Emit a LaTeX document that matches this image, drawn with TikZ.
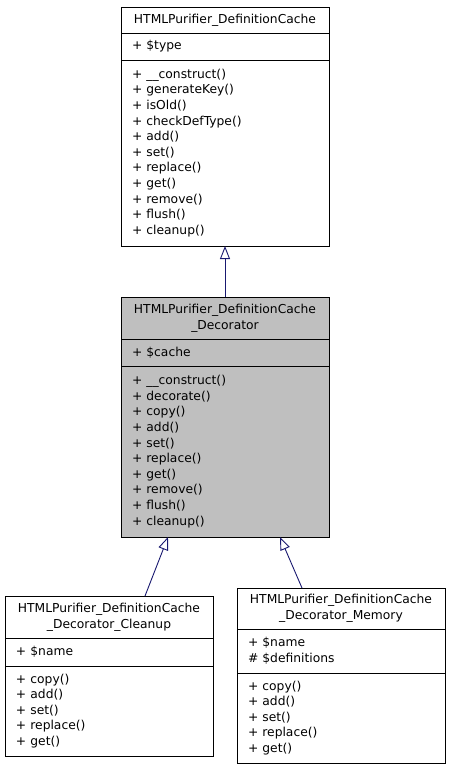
\documentclass[tikz,border=0pt]{standalone}
\usepackage{fontspec}
\setmainfont{DejaVu Sans}
\usetikzlibrary{positioning,arrows.meta}
\definecolor{edgeblue}{RGB}{25,25,112}
\definecolor{decogray}{RGB}{191,191,191}

\begin{document}
\begin{tikzpicture}[x = 1pt, y = -1pt,
  part/.style = {draw, line width = 1pt, outer sep = 0pt, inner xsep = 11pt, inner ysep = 0pt,
    text width = 186pt, align = left, font = \fontsize{12.3}{15.6}\selectfont},
  title/.style = {part, align = center, anchor = north west},
  inherit/.style = {draw = edgeblue, line width = 0.9pt, -{Triangle[open, length = 13pt, width = 10pt]}}]
\useasboundingbox (0, 0) rectangle (451, 771);
%\draw[very thin, color = gray](0, 0) grid[step = 50] (451, 771);

% base class
\node (cacheTitle) at (121, 7) [title, minimum height = 26pt] {HTMLPurifier\_DefinitionCache};
\node (cacheAttr) [part, below = 0pt of cacheTitle, minimum height = 27pt] {+ \$type};
\node (cacheMethods) [part, below = 0pt of cacheAttr, minimum height = 186pt]
  {+ \_\_construct()\\+ generateKey()\\+ isOld()\\+ checkDefType()\\+ add()\\+ set()\\+ replace()\\+ get()\\+ remove()\\+ flush()\\+ cleanup()};

% decorator
\node (decoTitle) at (121, 297) [title, fill = decogray, minimum height = 42pt]
  {HTMLPurifier\_DefinitionCache\\\_Decorator};
\node (decoAttr) [part, fill = decogray, below = 0pt of decoTitle, minimum height = 27pt] {+ \$cache};
\node (decoMethods) [part, fill = decogray, below = 0pt of decoAttr, minimum height = 171pt]
  {+ \_\_construct()\\+ decorate()\\+ copy()\\+ add()\\+ set()\\+ replace()\\+ get()\\+ remove()\\+ flush()\\+ cleanup()};

% subclasses
\node (cleanupTitle) at (5, 596) [title, minimum height = 42pt]
  {HTMLPurifier\_DefinitionCache\\\_Decorator\_Cleanup};
\node (cleanupAttr) [part, below = 0pt of cleanupTitle, minimum height = 28pt] {+ \$name};
\node (cleanupMethods) [part, below = 0pt of cleanupAttr, minimum height = 90pt]
  {+ copy()\\+ add()\\+ set()\\+ replace()\\+ get()};

\node (memoryTitle) at (237, 588) [title, minimum height = 41pt]
  {HTMLPurifier\_DefinitionCache\\\_Decorator\_Memory};
\node (memoryAttr) [part, below = 0pt of memoryTitle, minimum height = 44pt] {+ \$name\\\# \$definitions};
\node (memoryMethods) [part, below = 0pt of memoryAttr, minimum height = 90pt]
  {+ copy()\\+ add()\\+ set()\\+ replace()\\+ get()};

\draw[inherit] (decoTitle.north) -- (cacheMethods.south);
\draw[inherit] ([xshift = 36pt]cleanupTitle.north) -- ([xshift = -57pt]decoMethods.south);
\draw[inherit] ([xshift = -39pt]memoryTitle.north) -- ([xshift = 55pt]decoMethods.south);
\end{tikzpicture}
\end{document}
